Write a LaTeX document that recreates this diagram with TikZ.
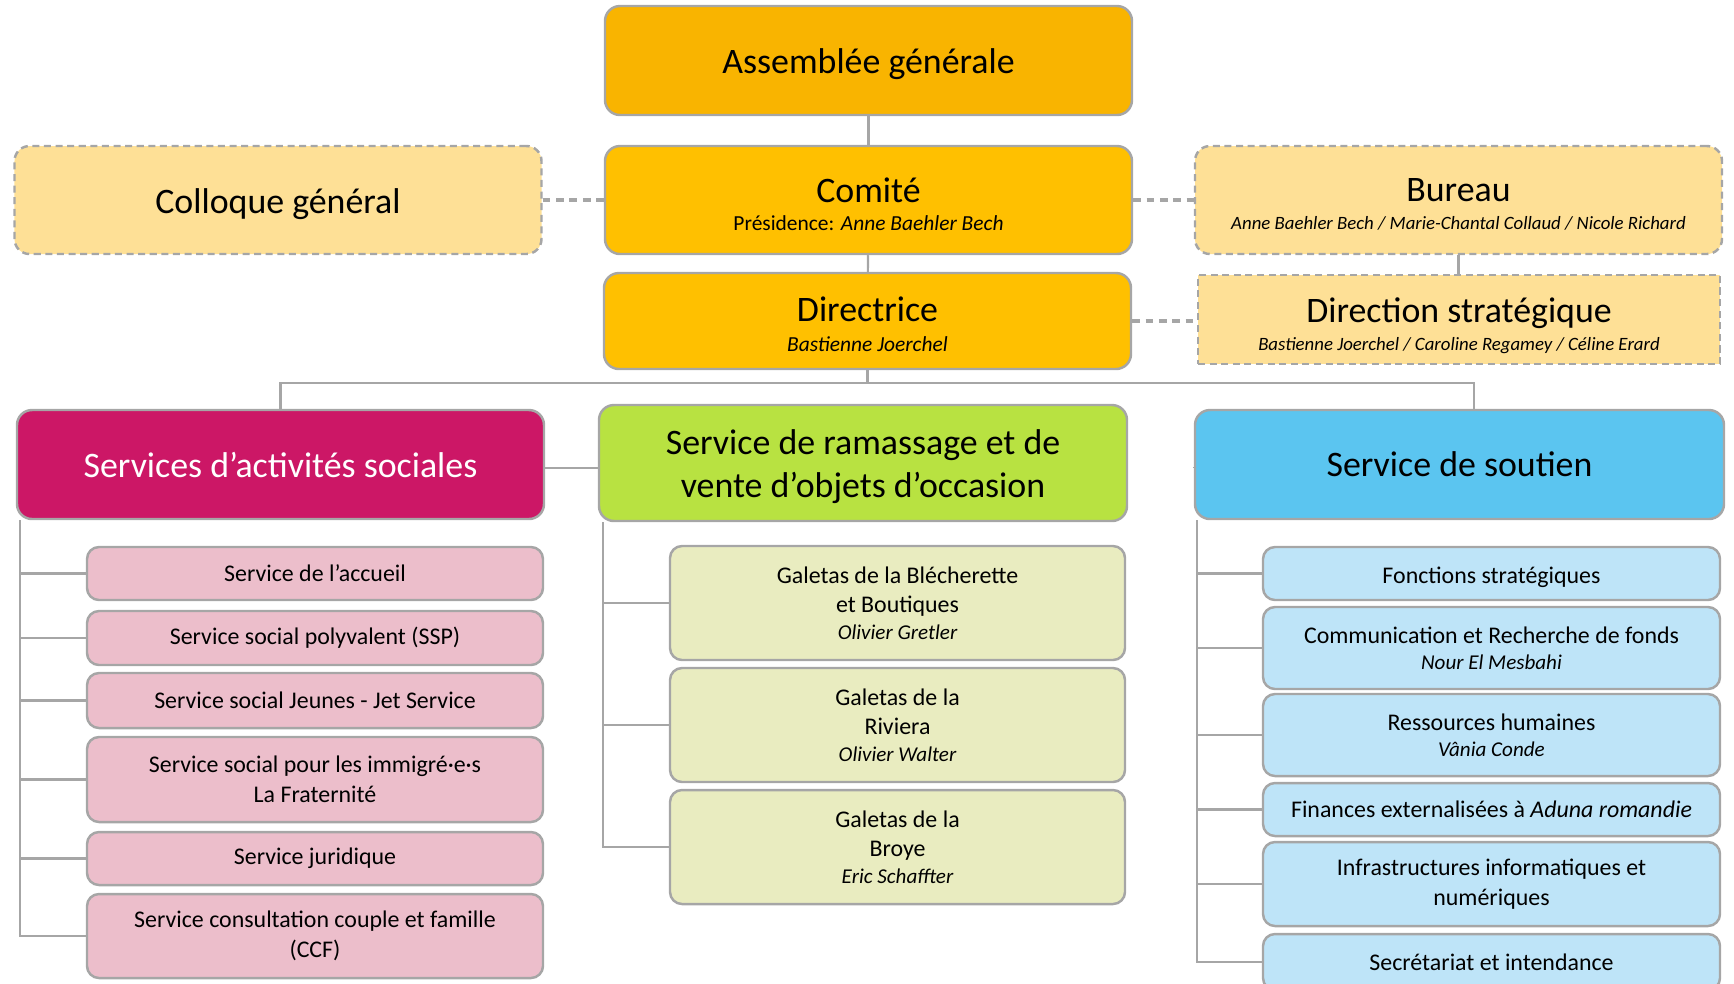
\documentclass[tikz,border=0pt]{standalone}
\usepackage{fontspec}
\setmainfont{Carlito}
\usetikzlibrary{positioning}

\definecolor{asmorange}{RGB}{249,180,0}
\definecolor{gold}{RGB}{255,192,0}
\definecolor{paleyellow}{RGB}{254,224,150}
\definecolor{magenta}{RGB}{204,23,102}
\definecolor{pink}{RGB}{236,190,203}
\definecolor{lime}{RGB}{184,226,65}
\definecolor{paleolive}{RGB}{233,236,192}
\definecolor{sky}{RGB}{91,197,240}
\definecolor{palesky}{RGB}{190,228,248}
\definecolor{linegray}{RGB}{166,166,166}

\newcommand{\who}[1]{{\fontsize{6}{7}\selectfont\itshape #1}}
\newcommand{\members}[1]{{\fontsize{5.35}{7}\selectfont\itshape #1}}
\newcommand{\head}[1]{{\fontsize{6.1}{7}\selectfont #1}}
\newcommand{\lift}[1]{\rule{0pt}{#1}}

\begin{document}
\begin{tikzpicture}
        \tikzstyle{every node}=[rectangle, rounded corners=1.5mm, draw=linegray, line width=0.7pt, align=center, inner sep=0pt, text=black]
        \tikzstyle{big}=[minimum width=5.27cm, font=\fontsize{10.2}{12.3}\selectfont]
        \tikzstyle{side}=[big, fill=paleyellow, dash pattern=on 2pt off 1.3pt]
        \tikzstyle{child}=[rounded corners=1.2mm, font=\fontsize{6.8}{8.5}\selectfont]
        \tikzstyle{link}=[draw=linegray, line width=0.6pt]
        \tikzstyle{dlink}=[draw=linegray, line width=1pt, dash pattern=on 2.2pt off 1.6pt]

        \useasboundingbox (0,0) rectangle (17.34,-9.83);

        % direction
        \node[big, fill=asmorange, minimum height=1.09cm] (asm) at (8.685,-0.605) {\lift{9.4pt}Assemblée générale};
        \node[big, fill=gold, minimum height=1.08cm] (com) at (8.685,-2.00) {\lift{9.5pt}Comité\\[-4.2pt]\head{Présidence: \itshape Anne Baehler Bech}};
        \node[big, fill=gold, minimum height=0.96cm] (dir) at (8.675,-3.21) {\lift{9pt}Directrice\\[-3.8pt]\head{\itshape Bastienne Joerchel}};
        \node[side, minimum height=1.08cm] (col) at (2.78,-2.00) {\lift{9.7pt}Colloque général};
        \node[side, minimum height=1.08cm] (bur) at (14.585,-2.00) {\lift{9pt}Bureau\\[-4.5pt]\members{Anne Baehler Bech / Marie-Chantal Collaud / Nicole Richard}};
        \node[side, sharp corners, minimum width=5.22cm, minimum height=0.89cm] (dst) at (14.59,-3.195) {\lift{10.6pt}Direction stratégique\\[-4.5pt]\members{Bastienne Joerchel / Caroline Regamey / Céline Erard}};

        % services
        \node[big, fill=magenta, text=white, minimum height=1.09cm] (soc) at (2.805,-4.645) {Services d’activités sociales};
        \node[big, fill=lime, minimum width=5.28cm, minimum height=1.16cm] (ram) at (8.63,-4.63) {\lift{9.1pt}Service de ramassage et de\\vente d’objets d’occasion};
        \node[big, fill=sky, minimum width=5.29cm, minimum height=1.09cm] (sou) at (14.595,-4.645) {Service de soutien};

        \tikzstyle{child}+=[fill=pink, minimum width=4.56cm]
        \node[child, minimum height=0.53cm] (s1) at (3.15,-5.735) {Service de l’accueil};
        \node[child, minimum height=0.54cm] (s2) at (3.15,-6.38)  {Service social polyvalent (SSP)};
        \node[child, minimum height=0.55cm] (s3) at (3.15,-7.005) {Service social Jeunes - Jet Service};
        \node[child, minimum height=0.85cm] (s4) at (3.15,-7.795) {Service social pour les immigré·e·s\\La Fraternité};
        \node[child, minimum height=0.53cm] (s5) at (3.15,-8.585) {Service juridique};
        \node[child, minimum height=0.84cm] (s6) at (3.15,-9.36)  {Service consultation couple et famille\\(CCF)};

        \tikzstyle{child}+=[fill=paleolive, minimum width=4.55cm, minimum height=1.14cm]
        \node[child] (g1) at (8.975,-6.03) {Galetas de la Blécherette\\et Boutiques\\[-1pt]\who{Olivier Gretler}};
        \node[child] (g2) at (8.975,-7.25) {Galetas de la\\Riviera\\[-1pt]\who{Olivier Walter}};
        \node[child] (g3) at (8.975,-8.47) {Galetas de la\\Broye\\[-1pt]\who{Eric Schaffter}};

        \tikzstyle{child}+=[fill=palesky, minimum width=4.57cm]
        \node[child, minimum height=0.53cm] (f1) at (14.915,-5.735) {\lift{7pt}Fonctions stratégiques};
        \node[child, minimum height=0.82cm] (f2) at (14.915,-6.48)  {Communication et Recherche de fonds\\[-1pt]\who{Nour El Mesbahi}};
        \node[child, minimum height=0.82cm] (f3) at (14.915,-7.35)  {Ressources humaines\\[-1pt]\who{Vânia Conde}};
        \node[child, minimum height=0.53cm] (f4) at (14.915,-8.095) {Finances externalisées à \textit{Aduna romandie}};
        \node[child, minimum height=0.84cm] (f5) at (14.915,-8.84)  {Infrastructures informatiques et\\numériques};
        \node[child, minimum height=0.56cm] (f6) at (14.915,-9.62)  {Secrétariat et intendance};

        % links
        \draw[link] (asm) -- (com);
        \draw[link] (com) -- (dir);
        \draw[link] (bur.south) -- (bur.south |- dst.north);
        \draw[dlink] (col.east) -- (com.west);
        \draw[dlink] (com.east) -- (bur.west);
        \draw[dlink] (dir.east) -- (dir.east -| dst.west);

        \coordinate (bus) at ([yshift=2.6mm]soc.north);
        \draw[link] (soc.north) -- (bus) -| ([xshift=1.45mm]sou.north);
        \draw[link] (dir.south) -- (dir.south |- bus);
        \draw[link] ([yshift=-0.35mm]soc.east) -- ([yshift=-0.35mm]soc.east -| ram.west);
        \draw[link] ([yshift=-0.35mm]ram.east -| sou.west) -- ([yshift=-0.35mm]sou.west);

        \coordinate (tl) at ([xshift=0.4mm]soc.south west);
        \coordinate (tm) at ([xshift=0.5mm]ram.south west);
        \coordinate (tr) at ([xshift=0.3mm]sou.south west);
        \foreach \n in {s1,s2,s3,s4,s5,s6}
            \draw[link] (tl) |- (\n.west);
        \foreach \n in {g1,g2,g3}
            \draw[link] (tm) |- (\n.west);
        \foreach \n in {f1,f2,f3,f4,f5,f6}
            \draw[link] (tr) |- (\n.west);
\end{tikzpicture}
\end{document}
